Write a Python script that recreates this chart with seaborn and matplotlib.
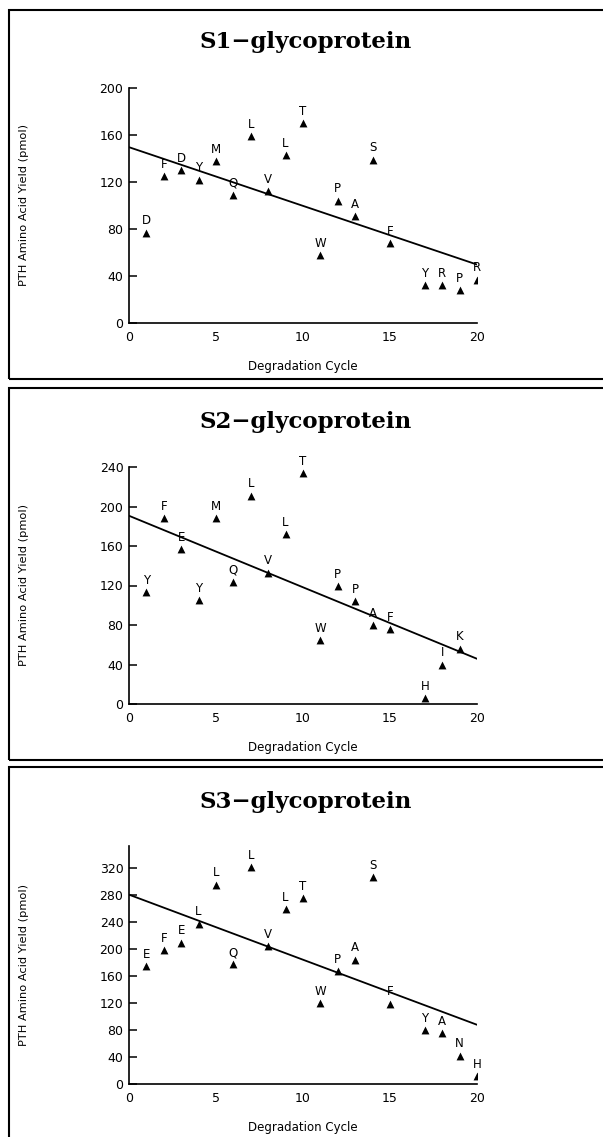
import numpy as np
import pandas as pd
import matplotlib.pyplot as plt
import seaborn as sns
from matplotlib.patches import Rectangle

# PTH amino acid yields per degradation cycle
cycle_s1 = [1, 2, 3, 4, 5, 6, 7, 8, 9, 10, 11, 12, 13, 14, 15, 17, 18, 19, 20]
yield_s1 = [77, 125, 130, 122, 138, 109, 159, 112, 143, 170, 58, 104, 91, 139, 68, 32, 32, 28, 37]
res_s1 = list("DFDYMQLVLTWPASFYRPR")

cycle_s2 = [1, 2, 3, 4, 5, 6, 7, 8, 9, 10, 11, 12, 13, 14, 15, 17, 18, 19]
yield_s2 = [113, 188, 157, 105, 188, 124, 211, 133, 172, 234, 65, 119, 104, 80, 76, 6, 40, 56]
res_s2 = list("YFEYMQLVLTWPPAFHIK")

cycle_s3 = [1, 2, 3, 4, 5, 6, 7, 8, 9, 10, 11, 12, 13, 14, 15, 17, 18, 19, 20]
yield_s3 = [174, 198, 209, 237, 295, 177, 321, 204, 259, 275, 120, 167, 184, 306, 119, 80, 75, 42, 12]
res_s3 = list("EFELLQLVLTWPASFYANH")

titles = ["S1\u2212glycoprotein", "S2\u2212glycoprotein", "S3\u2212glycoprotein"]
y_tops = [200, 240, 352]
y_ticks = [np.arange(0, 201, 40), np.arange(0, 241, 40), np.arange(0, 321, 40)]

sns.set_style("ticks")
plt.rcParams['font.family'] = ['DejaVu Sans']
for key in ["text.color", "axes.labelcolor", "xtick.color", "ytick.color", "axes.edgecolor"]:
    plt.rcParams[key] = "black"

fig = plt.figure(figsize=(6.03, 11.37), dpi=100)
H = 1137.0
W = 603.0

# panel layout in pixels: (axis top, axis bottom, frame top, frame bottom, title y)
layout = [
    (88, 323, 10, 379, 42),
    (467, 704, 388, 760, 422),
    (846, 1084, 767, 1180, 802),
]

data = [
    (cycle_s1, yield_s1, res_s1),
    (cycle_s2, yield_s2, res_s2),
    (cycle_s3, yield_s3, res_s3),
]

for i, (cyc, yld, res) in enumerate(data):
    a_top, a_bot, f_top, f_bot, t_y = layout[i]
    h = a_bot - a_top
    ax = fig.add_axes([129 / W, (H - a_bot) / H, 348 / W, h / H])
    df = pd.DataFrame({"cycle": cyc, "pmol": yld, "res": res})

    ax.set_xlim(0, 20)
    ax.set_ylim(0, y_tops[i])
    sns.regplot(data=df, x="cycle", y="pmol", ax=ax, scatter=False, ci=None,
                truncate=False, color="black", line_kws={"lw": 1.3})
    sns.scatterplot(data=df, x="cycle", y="pmol", ax=ax, marker="^", s=32,
                    color="black", edgecolor="black", linewidth=0, zorder=3)
    for _, r in df.iterrows():
        ax.annotate(r["res"], (r["cycle"], r["pmol"]), xytext=(0, 8.5),
                    textcoords="offset points", ha="center", va="center", fontsize=8.5)

    ax.set_xlim(0, 20)
    ax.set_ylim(0, y_tops[i])
    ax.set_xticks([0, 5, 10, 15, 20])
    ax.set_yticks(y_ticks[i])
    sns.despine(ax=ax)
    for s in ["left", "bottom"]:
        ax.spines[s].set_linewidth(1.2)
    ax.tick_params(axis="y", direction="in", length=6, width=1.1, pad=4, labelsize=9)
    ax.tick_params(axis="x", length=0, pad=6, labelsize=9)

    ax.set_xlabel("Degradation Cycle", fontsize=8.5)
    ax.set_ylabel("PTH Amino Acid Yield (pmol)", fontsize=8.2)
    ax.xaxis.set_label_coords(0.5, -37 / h)
    ax.yaxis.set_label_coords(-100 / 348, 0.5)

    fig.text(306 / W, 1 - t_y / H, titles[i], family="DejaVu Serif", fontsize=16.5,
             fontweight="bold", ha="center", va="center")
    fig.add_artist(Rectangle((9 / W, (H - f_bot) / H), 1.1, (f_bot - f_top) / H,
                             transform=fig.transFigure, fill=False, lw=1.5, ec="black"))

fig.savefig("out.png", dpi=100)
